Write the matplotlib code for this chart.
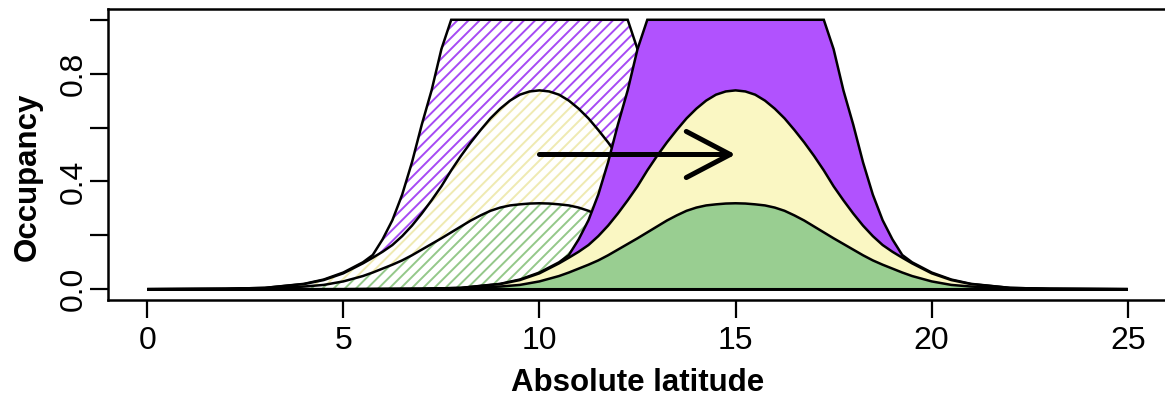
import numpy as np
import matplotlib
matplotlib.use("Agg")
import matplotlib.pyplot as plt

plt.rcParams['font.family'] = ['Liberation Sans', 'DejaVu Sans']
plt.rcParams['hatch.linewidth'] = 1.4

# occupancy profile, as distance from the range centre
offsets = [0, 0.25, 0.5, 0.75, 1.0, 1.25, 1.5, 1.75, 2.0, 2.25, 2.5, 2.75, 3.0,
           3.25, 3.5, 3.75, 4.0, 4.25, 4.5, 5.0, 5.5, 6.0, 7.0, 8.0, 10.0, 15.0]
purple_occ = [1, 1, 1, 1, 1, 1, 1, 1, 1, 1.0, 0.891, 0.738, 0.611, 0.471, 0.351,
              0.256, 0.185, 0.127, 0.100, 0.062, 0.036, 0.020, 0.005, 0.0015, 0, 0]
yellow_occ = [0.738, 0.734, 0.722, 0.700, 0.670, 0.634, 0.591, 0.545, 0.495, 0.441,
              0.382, 0.330, 0.281, 0.236, 0.197, 0.164, 0.139, 0.117, 0.096, 0.059,
              0.034, 0.019, 0.005, 0.0015, 0, 0]
green_occ = [0.319, 0.318, 0.315, 0.311, 0.303, 0.291, 0.274, 0.255, 0.233, 0.211,
             0.189, 0.168, 0.147, 0.126, 0.107, 0.091, 0.0765, 0.062, 0.049, 0.029,
             0.016, 0.010, 0.003, 0.001, 0, 0]

old_centre = 10   # hatched (before shift)
new_centre = 15   # solid (after shift)
lat_range = [0, 25]
arrow_x = [10, 15]
arrow_y = 0.5

x_ticks = [0, 5, 10, 15, 20, 25]
y_ticks = [0.0, 0.2, 0.4, 0.6, 0.8, 1.0]
y_tick_labels = ['0.0', '', '0.4', '', '0.8', '']

purple = '#B152FE'
yellow = '#FAF7C3'
green = '#99CE91'
purple_hatch = '#A64AF4'
yellow_hatch = '#EFEAB2'
green_hatch = '#94C88A'


def profile(centre, occ):
    off = np.array(offsets)
    val = np.array(occ)
    x = np.concatenate([centre - off[::-1], centre + off[1:]])
    y = np.concatenate([val[::-1], val[1:]])
    keep = (x >= lat_range[0]) & (x <= lat_range[1])
    return x[keep], y[keep]


fig = plt.figure(figsize=(11.65, 4.08), dpi=100)
ax = fig.add_axes([108 / 1165, 108 / 408, 1059 / 1165, 291 / 408])

# hatched curves: range before the shift
for occ, hc in [(purple_occ, purple_hatch), (yellow_occ, yellow_hatch),
                (green_occ, green_hatch)]:
    x, y = profile(old_centre, occ)
    ax.fill(x, y, facecolor='white', edgecolor=hc, linewidth=0, hatch='///')
    ax.fill(x, y, facecolor='none', edgecolor='black', linewidth=1.8)

# solid curves: range after the shift
for occ, c in [(purple_occ, purple), (yellow_occ, yellow), (green_occ, green)]:
    x, y = profile(new_centre, occ)
    ax.fill(x, y, facecolor=c, edgecolor='black', linewidth=1.8)

ax.annotate('', xy=(arrow_x[1], arrow_y), xytext=(arrow_x[0], arrow_y),
            arrowprops=dict(arrowstyle='->,head_length=1.58,head_width=0.83',
                            lw=3.6, color='black', shrinkA=0, shrinkB=0,
                            mutation_scale=20))

ax.set_xlim(-1, 26)
ax.set_ylim(-0.04, 1.04)
ax.set_xticks(x_ticks)
ax.set_xticklabels([str(t) for t in x_ticks])
ax.set_yticks(y_ticks)
ax.set_yticklabels(y_tick_labels)
ax.tick_params(axis='both', length=13, width=1.6, labelsize=23, color='black')
ax.tick_params(axis='x', pad=6)
ax.tick_params(axis='y', pad=1)
for lab in ax.get_yticklabels():
    lab.set_rotation(90)
    lab.set_va('center')
for s in ax.spines.values():
    s.set_linewidth(1.8)

ax.set_xlabel('Absolute latitude', fontsize=22.5, fontweight='bold')
ax.set_ylabel('Occupancy', fontsize=22.5, fontweight='bold')
ax.xaxis.set_label_coords(0.5, -0.235)
ax.yaxis.set_label_coords(-0.062, 0.423)

fig.savefig('out.png', dpi=100)
